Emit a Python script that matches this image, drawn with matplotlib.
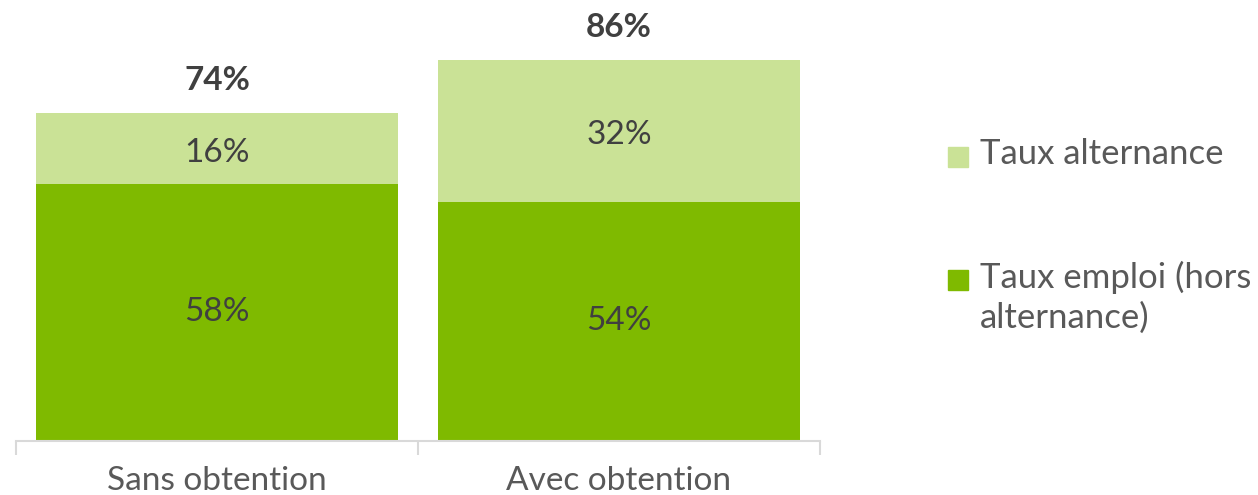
import numpy as np
import matplotlib.pyplot as plt
from matplotlib.patches import Rectangle

categories = ['Sans obtention', 'Avec obtention']
emploi = [58, 54]
alternance = [16, 32]
totals = [74, 86]
series_names = ['Taux alternance', 'Taux emploi (hors\nalternance)']

dark = '#7FBA00'
light = '#CAE296'
txt = '#595959'
lbl = '#404040'

plt.rcParams['font.family'] = ['Lato', 'DejaVu Sans']

W, H = 1258, 495
fig = plt.figure(figsize=(W/100, H/100), dpi=100)
ax = fig.add_axes([16/W, 54/H, 804/W, 441/H])

x = np.arange(len(categories))
ax.bar(x, emploi, width=0.9, color=dark)
ax.bar(x, alternance, bottom=emploi, width=0.9, color=light)

for i in range(len(x)):
    ax.text(x[i], emploi[i]/2, f'{emploi[i]}%', ha='center', va='center',
            fontsize=24, color=lbl)
    ax.text(x[i], emploi[i] + alternance[i]/2 - 1, f'{alternance[i]}%',
            ha='center', va='center', fontsize=24, color=lbl)
    ax.text(x[i], totals[i] + 4, f'{totals[i]}%', ha='center', va='bottom',
            fontsize=24, color=lbl, fontweight='bold')

ax.set_xlim(-0.5, 1.5)
ax.set_ylim(0, 99.5)
ax.set_yticks([])
ax.set_xticks(x)
ax.set_xticklabels(categories, fontsize=24, color=txt)
ax.set_xticks([-0.5, 0.5, 1.5], minor=True)
ax.tick_params(axis='x', which='major', length=0, pad=18)
ax.tick_params(axis='x', which='minor', length=10, color='#D9D9D9', width=1.5)
for s in ['top', 'right', 'left']:
    ax.spines[s].set_visible(False)
ax.spines['bottom'].set_color('#D9D9D9')
ax.spines['bottom'].set_linewidth(1.5)

# legend drawn by hand to match spacing
leg_y = [157, 280]
leg_col = [light, dark]
for yy, c, name in zip(leg_y, leg_col, series_names):
    fig.patches.append(Rectangle((948/W, 1 - (yy + 10)/H), 20/W, 20/H,
                                 transform=fig.transFigure, color=c))
    fig.text(980/W, 1 - (yy - 19)/H, name, ha='left', va='top', fontsize=25,
             color=txt, linespacing=1.3)

fig.savefig('out.png', dpi=100)
